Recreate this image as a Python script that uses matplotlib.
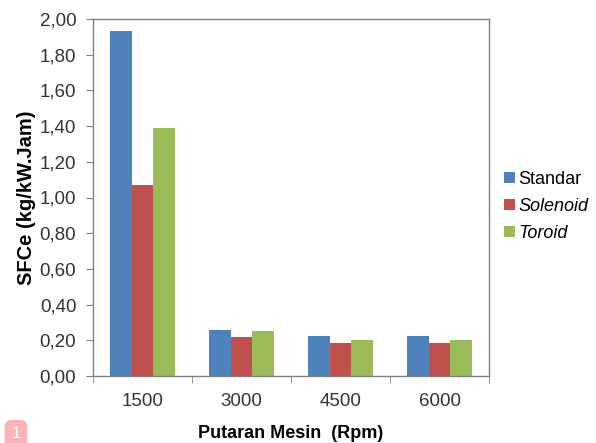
import matplotlib
matplotlib.use("Agg")
import matplotlib.pyplot as plt
import numpy as np

plt.rcParams['font.family'] = ['Liberation Sans', 'DejaVu Sans']

categories = ['1500', '3000', '4500', '6000']
series_names = ['Standar', 'Solenoid', 'Toroid']
standar = [1.93, 0.26, 0.224, 0.224]
solenoid = [1.07, 0.218, 0.183, 0.183]
toroid = [1.39, 0.25, 0.202, 0.202]
colors = ['#4F81BD', '#C0504D', '#9BBB59']
yticks = [0.0, 0.2, 0.4, 0.6, 0.8, 1.0, 1.2, 1.4, 1.6, 1.8, 2.0]

fig = plt.figure(figsize=(5.96, 4.43), dpi=100)
ax = fig.add_axes([93/596, 1-376/443, (489-93)/596, (376-19)/443])

x = np.arange(len(categories))
w = 0.22
for i, (vals, c, name) in enumerate(zip([standar, solenoid, toroid], colors, series_names)):
    ax.bar(x + (i-1)*w, vals, width=w, color=c, label=name, zorder=2)

ax.set_xlim(-0.5, len(categories)-0.5)
ax.set_ylim(0, 2.0)
ax.set_yticks(yticks)
ax.set_yticklabels([f"{v:.2f}".replace('.', ',') for v in yticks], fontsize=13.5, color='#333333')
ax.set_xticks(x)
ax.set_xticklabels(categories, fontsize=13.5, color='#333333')
ax.set_xticks(np.arange(-0.5, len(categories)), minor=True)
ax.tick_params(axis='x', which='major', length=0, pad=12)
ax.tick_params(axis='x', which='minor', length=5, color='#808080', direction='out')
ax.tick_params(axis='y', length=5, color='#808080', direction='out', pad=7)
for s in ax.spines.values():
    s.set_color('#808080')
    s.set_linewidth(1.0)

ax.set_xlabel('Putaran Mesin  (Rpm)', fontsize=13, fontweight='bold', labelpad=11)
ax.set_ylabel('SFCe (kg/kW.Jam)', fontsize=14.5, fontweight='bold', labelpad=3)

leg = ax.legend(loc='center left', bbox_to_anchor=(1.02, 0.475), frameon=False,
                fontsize=13, handlelength=0.6, handleheight=0.6, handletextpad=0.2,
                labelspacing=0.55, borderaxespad=0)
for t in leg.get_texts()[1:]:
    t.set_fontstyle('italic')

fig.text(16/596, 1-434/443, '1', fontsize=12, color='white', ha='center', va='center',
         bbox=dict(boxstyle='round,pad=0.4', facecolor='#F8B4B8', edgecolor='none'))

fig.savefig('out.png', dpi=100)
